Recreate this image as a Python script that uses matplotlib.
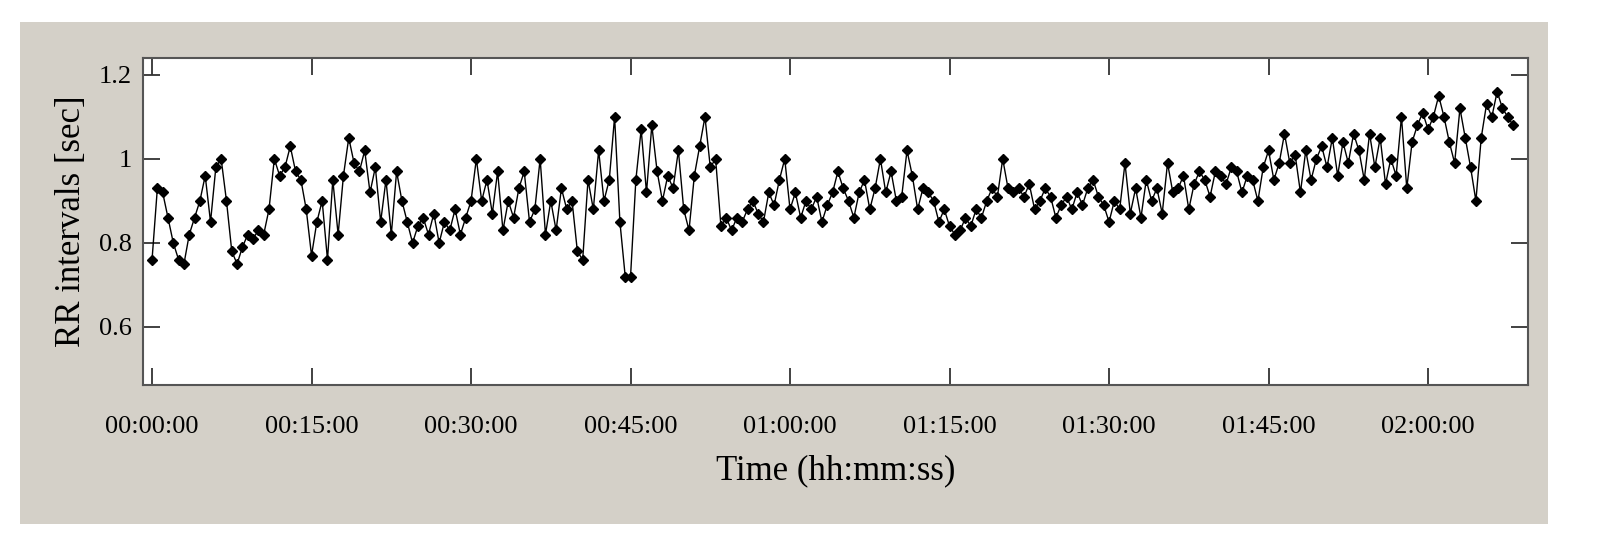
import numpy as np
import matplotlib
matplotlib.use("Agg")
import matplotlib.pyplot as plt

rr = [0.76,0.93,0.92,0.86,0.80,0.76,0.75,0.82,0.86,0.90,
0.96,0.85,0.98,1.00,0.90,0.78,0.75,0.79,0.82,0.81,
0.83,0.82,0.88,1.00,0.96,0.98,1.03,0.97,0.95,0.88,
0.77,0.85,0.90,0.76,0.95,0.82,0.96,1.05,0.99,0.97,
1.02,0.92,0.98,0.85,0.95,0.82,0.97,0.90,0.85,0.80,
0.84,0.86,0.82,0.87,0.80,0.85,0.83,0.88,0.82,0.86,
0.90,1.00,0.90,0.95,0.87,0.97,0.83,0.90,0.86,0.93,
0.97,0.85,0.88,1.00,0.82,0.90,0.83,0.93,0.88,0.90,
0.78,0.76,0.95,0.88,1.02,0.90,0.95,1.10,0.85,0.72,
0.72,0.95,1.07,0.92,1.08,0.97,0.90,0.96,0.93,1.02,
0.88,0.83,0.96,1.03,1.10,0.98,1.00,0.84,0.86,0.83,
0.86,0.85,0.88,0.90,0.87,0.85,0.92,0.89,0.95,1.00,
0.88,0.92,0.86,0.90,0.88,0.91,0.85,0.89,0.92,0.97,
0.93,0.90,0.86,0.92,0.95,0.88,0.93,1.00,0.92,0.97,
0.90,0.91,1.02,0.96,0.88,0.93,0.92,0.90,0.85,0.88,
0.84,0.82,0.83,0.86,0.84,0.88,0.86,0.90,0.93,0.91,
1.00,0.93,0.92,0.93,0.91,0.94,0.88,0.90,0.93,0.91,
0.86,0.89,0.91,0.88,0.92,0.89,0.93,0.95,0.91,0.89,
0.85,0.90,0.88,0.99,0.87,0.93,0.86,0.95,0.90,0.93,
0.87,0.99,0.92,0.93,0.96,0.88,0.94,0.97,0.95,0.91,
0.97,0.96,0.94,0.98,0.97,0.92,0.96,0.95,0.90,0.98,
1.02,0.95,0.99,1.06,0.99,1.01,0.92,1.02,0.95,1.00,
1.03,0.98,1.05,0.96,1.04,0.99,1.06,1.02,0.95,1.06,
0.98,1.05,0.94,1.00,0.96,1.10,0.93,1.04,1.08,1.11,
1.07,1.10,1.15,1.10,1.04,0.99,1.12,1.05,0.98,0.90,
1.05,1.13,1.10,1.16,1.12,1.10,1.08]
t_min = np.arange(len(rr)) * 0.5  # sample times in minutes

xtick_min = [0, 15, 30, 45, 60, 75, 90, 105, 120]
xtick_labels = ["00:00:00","00:15:00","00:30:00","00:45:00","01:00:00",
                "01:15:00","01:30:00","01:45:00","02:00:00"]
ytick_vals = [0.6, 0.8, 1.0, 1.2]
ytick_labels = ["0.6", "0.8", "1", "1.2"]

fig = plt.figure(figsize=(16.07, 5.57), dpi=100)
fig.patch.set_facecolor("white")
bg = fig.add_axes([20/1607, 1-524/557, 1528/1607, 502/557], zorder=-5)
bg.set_facecolor("#d4d0c8")
bg.set_xticks([]); bg.set_yticks([])
for s in bg.spines.values():
    s.set_visible(False)

ax = fig.add_axes([143/1607, 1-385/557, 1385/1607, 327/557], zorder=1)
ax.set_facecolor("white")
ax.plot(t_min, rr, color="black", lw=1.0, marker="D", ms=5.5)
ax.set_xlim(-0.85, 129.4)
ax.set_ylim(0.462, 1.24)
ax.set_xticks(xtick_min)
ax.set_xticklabels(xtick_labels)
ax.set_yticks(ytick_vals)
ax.set_yticklabels(ytick_labels)
font = "Liberation Serif"
for lab in ax.get_xticklabels() + ax.get_yticklabels():
    lab.set_fontfamily(font)
    lab.set_fontsize(19)
ax.tick_params(direction="in", length=12, width=1.3, top=True, right=True, colors="#333333")
ax.tick_params(axis="x", labelcolor="black", pad=22)
ax.tick_params(axis="y", labelcolor="black", pad=8)
for s in ax.spines.values():
    s.set_color("#555555")
    s.set_linewidth(1.5)
ax.set_xlabel("Time (hh:mm:ss)", fontfamily=font, fontsize=25, labelpad=12)
ax.set_ylabel("RR intervals [sec]", fontfamily=font, fontsize=25, labelpad=8)
fig.savefig("out.png", dpi=100)
